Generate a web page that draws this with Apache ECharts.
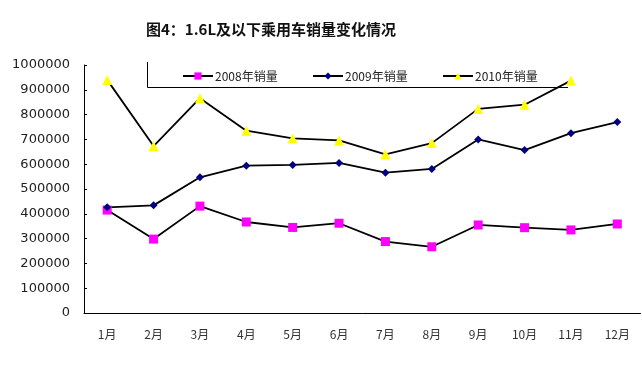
<!DOCTYPE html>
<html>
<head>
<meta charset="utf-8">
<script src="https://cdn.jsdelivr.net/npm/echarts@6/dist/echarts.min.js"></script>
<style>
html,body{margin:0;padding:0;background:#fff;}
#chart{width:642px;height:369px;}
</style>
</head>
<body>
<div id="chart"></div>
<script>
var titleText = '图4：1.6L及以下乘用车销量变化情况';
var months = ['1月','2月','3月','4月','5月','6月','7月','8月','9月','10月','11月','12月'];
var names = ['2008年销量','2009年销量','2010年销量'];
var sales2008 = [415000, 298000, 431000, 367000, 345000, 362000, 288000, 267000, 355000, 344000, 335000, 359000];
var sales2009 = [426000, 434000, 547000, 594000, 597000, 605000, 566000, 581000, 700000, 657000, 725000, 770000];
var sales2010 = [940000, 673000, 866000, 735000, 704000, 696000, 640000, 685000, 823000, 840000, 937000, null];
var yTicks = [0, 100000, 200000, 300000, 400000, 500000, 600000, 700000, 800000, 900000, 1000000];

var chart = echarts.init(document.getElementById('chart'));
var cjk = '"Noto Sans CJK SC", sans-serif';
function legendAt(left, name) {
  return {
    data: [name], left: left, top: 70, itemWidth: 30, itemHeight: 9, itemGap: 0,
    padding: 0,
    textStyle: {fontFamily: cjk, fontSize: 12, color: '#222', padding: [0,0,0,-3]},
    selectedMode: false
  };
}
chart.setOption({
  animation: false,
  backgroundColor: '#fff',
  title: {
    text: titleText, left: 141, top: 17,
    textStyle: {fontFamily: cjk, fontSize: 15, fontWeight: 'bold', color: '#111'}
  },
  legend: [legendAt(182, names[0]), legendAt(312, names[1]), legendAt(442, names[2])],
  graphic: [{
    type: 'polyline', silent: true,
    shape: {points: [[147.5, 62], [147.5, 87.5], [568, 87.5]]},
    style: {stroke: '#000', lineWidth: 1, fill: null}
  }],
  grid: {left: 84, right: 1.5, top: 65, bottom: 56},
  xAxis: {
    type: 'category', data: months, boundaryGap: true,
    axisLine: {lineStyle: {color: '#000', width: 1}},
    axisTick: {inside: true, length: 4, lineStyle: {color: '#000'}},
    axisLabel: {margin: 15, fontFamily: cjk, fontSize: 12, color: '#333'}
  },
  yAxis: {
    type: 'value', min: yTicks[0], max: yTicks[yTicks.length - 1], interval: 100000,
    axisLine: {show: true, lineStyle: {color: '#000', width: 1}},
    axisTick: {show: true, inside: true, length: 3, lineStyle: {color: '#000'}},
    splitLine: {show: false},
    axisLabel: {margin: 14, fontFamily: '"DejaVu Sans", sans-serif', fontSize: 13, color: '#222',
      formatter: function (v) { return String(v); }}
  },
  series: [
    {name: names[0], type: 'line', data: sales2008, symbol: 'rect', symbolSize: 9,
     itemStyle: {color: '#FF00FF'}, lineStyle: {color: '#000', width: 1.8}},
    {name: names[1], type: 'line', data: sales2009, symbol: 'diamond', symbolSize: 8,
     itemStyle: {color: '#000080'}, lineStyle: {color: '#000', width: 1.8}},
    {name: names[2], type: 'line', data: sales2010, symbol: 'triangle', symbolSize: 10,
     itemStyle: {color: '#FFFF00'}, lineStyle: {color: '#000', width: 1.8}}
  ]
});
</script>
</body>
</html>
